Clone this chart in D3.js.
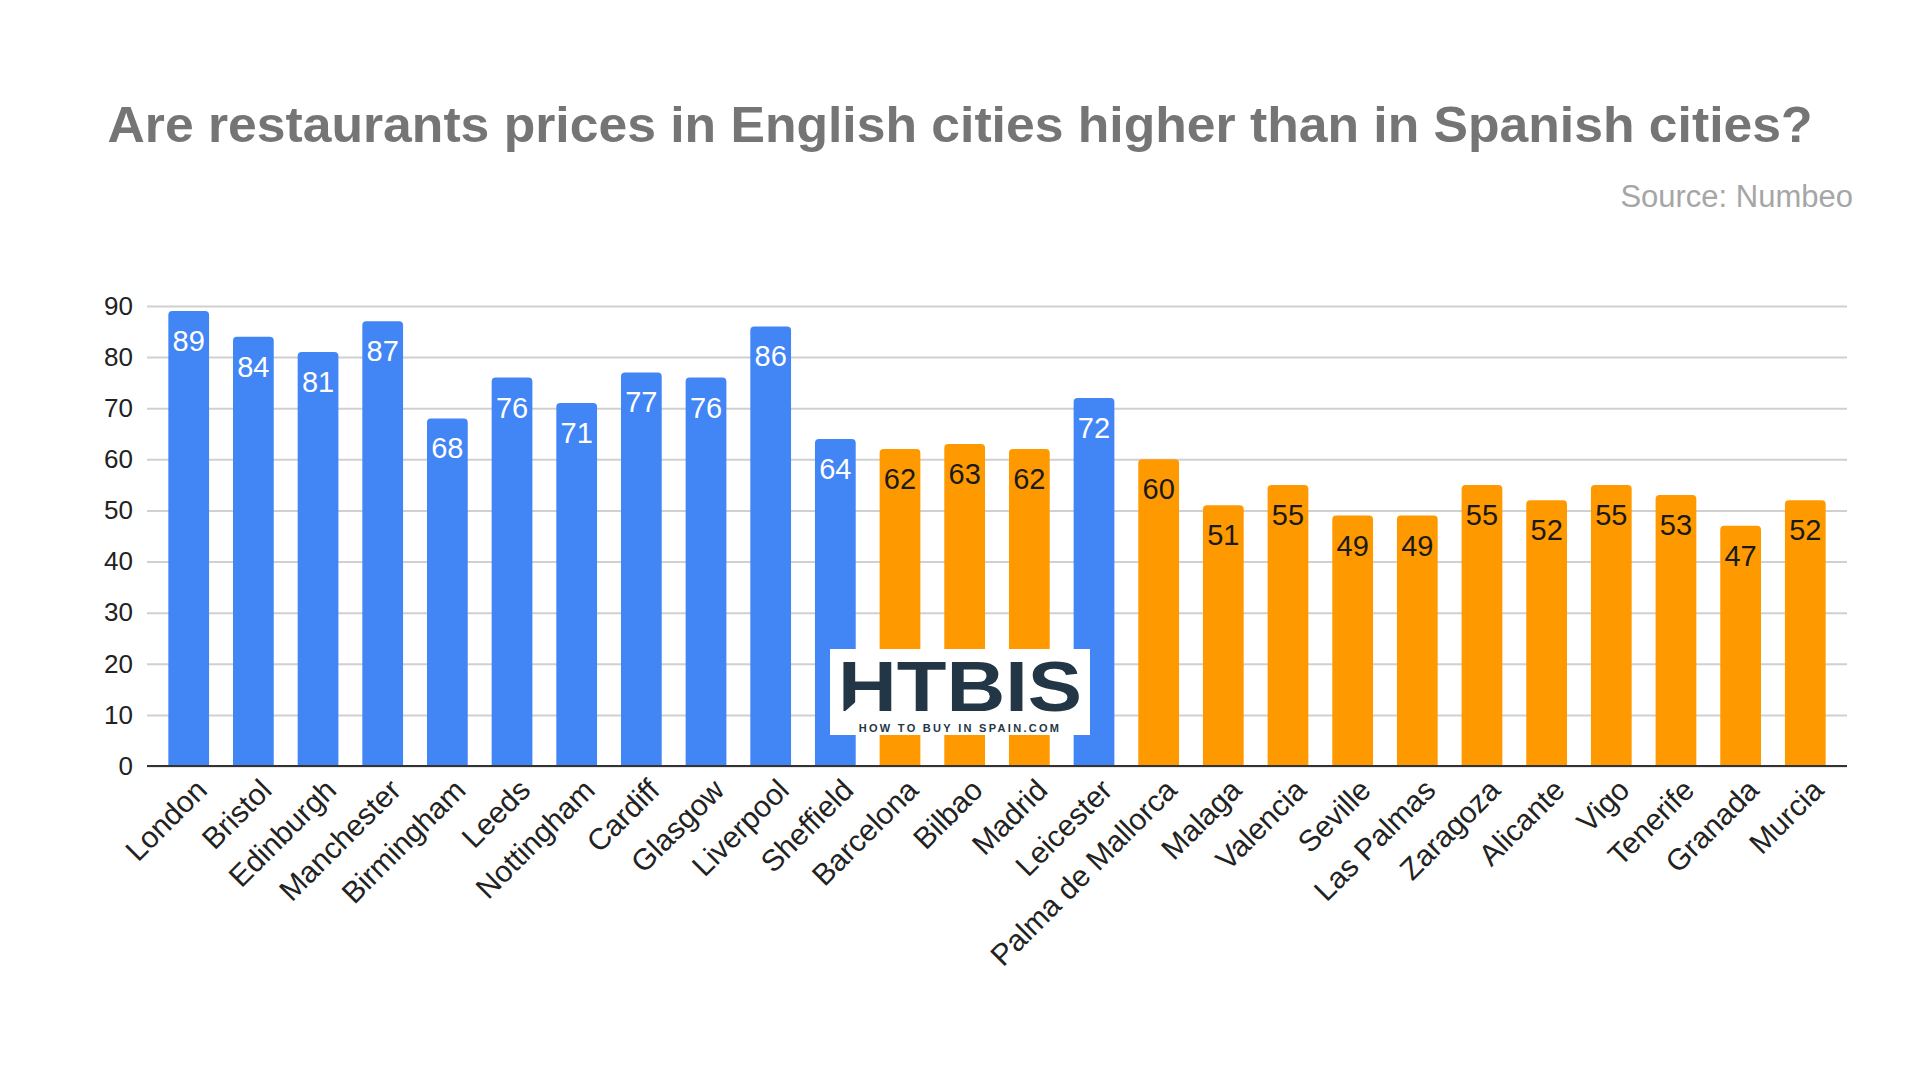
<!DOCTYPE html>
<html>
<head>
<meta charset="utf-8">
<script src="https://cdn.jsdelivr.net/npm/d3@7"></script>
<style>
  body { margin: 0; background: #fff; }
  text { font-family: "Liberation Sans", Arial, sans-serif; }
</style>
</head>
<body>
<svg id="chart" width="1920" height="1080"></svg>
<script>
const cities = ['London', 'Bristol', 'Edinburgh', 'Manchester', 'Birmingham', 'Leeds', 'Nottingham',
  'Cardiff', 'Glasgow', 'Liverpool', 'Sheffield', 'Barcelona', 'Bilbao', 'Madrid', 'Leicester',
  'Palma de Mallorca', 'Malaga', 'Valencia', 'Seville', 'Las Palmas', 'Zaragoza', 'Alicante',
  'Vigo', 'Tenerife', 'Granada', 'Murcia'];
const values = [89, 84, 81, 87, 68, 76, 71, 77, 76, 86, 64, 62, 63, 62, 72, 60, 51, 55, 49, 49, 55, 52, 55, 53, 47, 52];
const country = ['uk', 'uk', 'uk', 'uk', 'uk', 'uk', 'uk', 'uk', 'uk', 'uk', 'uk', 'es', 'es', 'es', 'uk',
  'es', 'es', 'es', 'es', 'es', 'es', 'es', 'es', 'es', 'es', 'es'];
const yTicks = [0, 10, 20, 30, 40, 50, 60, 70, 80, 90];

const colors = { uk: '#4285f4', es: '#ff9900' };
const labelColors = { uk: '#ffffff', es: '#1a1a1a' };

const svg = d3.select('#chart');
const plotLeft = 147, plotRight = 1847, plotTop = 306, plotBottom = 766;

const x = d3.scaleBand().domain(cities).range([plotLeft, plotRight]).paddingInner(0.37).paddingOuter(0.33);
const y = d3.scaleLinear().domain([0, 90]).range([plotBottom, plotTop]);

svg.append('text')
  .attr('x', 960).attr('y', 142)
  .attr('text-anchor', 'middle')
  .attr('font-size', 50).attr('font-weight', 'bold')
  .attr('fill', '#757575')
  .attr('textLength', 1705).attr('lengthAdjust', 'spacingAndGlyphs')
  .text('Are restaurants prices in English cities higher than in Spanish cities?');

svg.append('text')
  .attr('x', 1853).attr('y', 207)
  .attr('text-anchor', 'end')
  .attr('font-size', 31)
  .attr('fill', '#a6a6a6')
  .text('Source: Numbeo');

// grid + y axis
const yAxis = svg.append('g')
  .attr('transform', `translate(${plotLeft},0)`)
  .call(d3.axisLeft(y).tickValues(yTicks).tickSize(-(plotRight - plotLeft)).tickPadding(14));
yAxis.select('.domain').remove();
yAxis.selectAll('.tick line').attr('stroke', '#d0d0d0').attr('stroke-width', 2);
yAxis.selectAll('.tick text').attr('font-size', 26).attr('fill', '#222');

// bars
const rows = cities.map((c, i) => ({ city: c, value: values[i], country: country[i] }));
svg.append('g').selectAll('path').data(rows).join('path')
  .attr('fill', d => colors[d.country])
  .attr('d', d => {
    const x0 = x(d.city), w = x.bandwidth(), y0 = y(d.value), r = 4;
    return `M${x0},${plotBottom}V${y0 + r}Q${x0},${y0} ${x0 + r},${y0}H${x0 + w - r}Q${x0 + w},${y0} ${x0 + w},${y0 + r}V${plotBottom}Z`;
  });

// value labels
svg.append('g').selectAll('text').data(rows).join('text')
  .attr('x', d => x(d.city) + x.bandwidth() / 2)
  .attr('y', d => y(d.value) + 40)
  .attr('text-anchor', 'middle')
  .attr('font-size', 29)
  .attr('fill', d => labelColors[d.country])
  .text(d => d.value);

// baseline
svg.append('line')
  .attr('x1', plotLeft).attr('x2', plotRight)
  .attr('y1', plotBottom).attr('y2', plotBottom)
  .attr('stroke', '#333').attr('stroke-width', 2);

// category labels
svg.append('g').selectAll('text').data(cities).join('text')
  .attr('transform', d => `translate(${x(d) + x.bandwidth() / 2 + 20},${plotBottom + 26}) rotate(-45)`)
  .attr('text-anchor', 'end')
  .attr('font-size', 30)
  .attr('fill', '#222')
  .text(d => d);

// logo
const logo = svg.append('g').attr('transform', 'translate(830,649)');
logo.append('rect').attr('width', 260).attr('height', 86).attr('fill', '#fff');
logo.append('text')
  .attr('x', 8).attr('y', 62)
  .attr('font-size', 70).attr('font-weight', 900)
  .attr('textLength', 244).attr('lengthAdjust', 'spacingAndGlyphs')
  .attr('fill', '#233646')
  .text('HTBIS');
logo.append('path')
  .attr('d', 'M12,65L30,49L48,65H42V76H18V65Z')
  .attr('fill', '#fff');
logo.append('text')
  .attr('x', 130).attr('y', 83)
  .attr('text-anchor', 'middle')
  .attr('font-size', 11).attr('font-weight', 'bold')
  .attr('letter-spacing', 2.3)
  .attr('fill', '#233646')
  .text('HOW TO BUY IN SPAIN.COM');
</script>
</body>
</html>
